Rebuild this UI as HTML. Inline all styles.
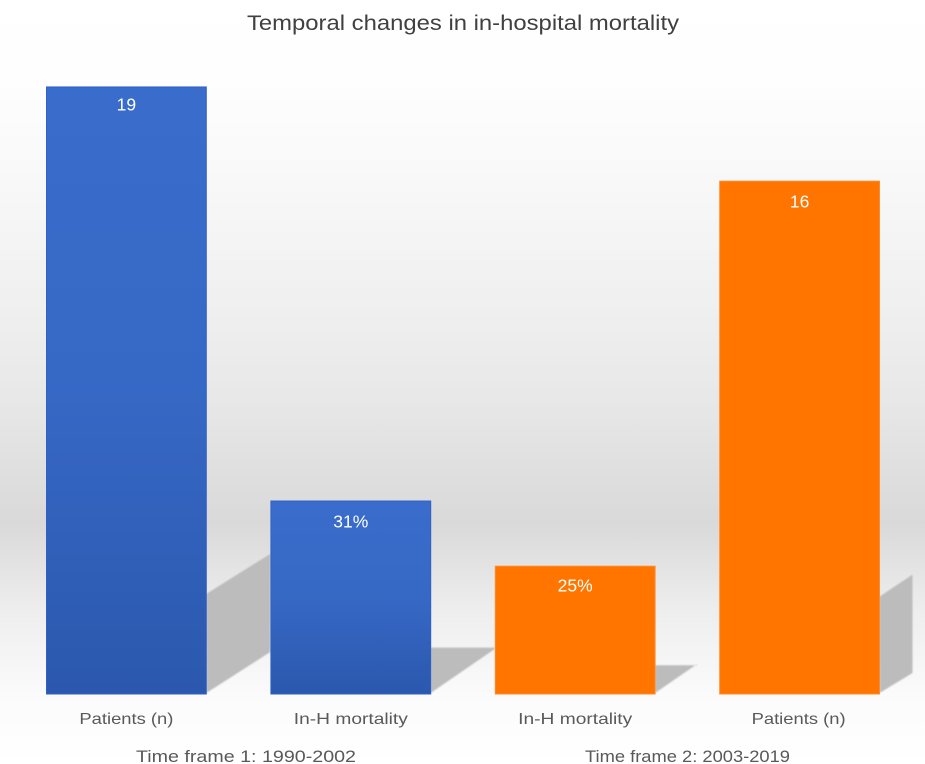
<!DOCTYPE html>
<html>
<head>
<meta charset="utf-8">
<title>Temporal changes in in-hospital mortality</title>
<style>
html,body{margin:0;padding:0;width:925px;height:764px;overflow:hidden;background:#fff}
svg{display:block}
text{font-family:"Liberation Sans",sans-serif}
</style>
</head>
<body>
<svg id="chart" width="925" height="764" viewBox="0 0 925 764" xmlns="http://www.w3.org/2000/svg">
<defs>
<linearGradient id="bgGrad" x1="0" y1="0" x2="0" y2="1">
<stop offset="0" stop-color="#ffffff"/>
<stop offset="0.1" stop-color="#fefefe"/>
<stop offset="0.24" stop-color="#f8f8f8"/>
<stop offset="0.41" stop-color="#efefef"/>
<stop offset="0.52" stop-color="#e8e8e8"/>
<stop offset="0.63" stop-color="#dedede"/>
<stop offset="0.685" stop-color="#d9d9d9"/>
<stop offset="0.795" stop-color="#ededed"/>
<stop offset="0.91" stop-color="#fbfbfb"/>
<stop offset="1" stop-color="#ffffff"/>
</linearGradient>
<linearGradient id="blueGrad" x1="0" y1="0" x2="0" y2="1">
<stop offset="0" stop-color="#3a6ccc"/>
<stop offset="0.5" stop-color="#3668c5"/>
<stop offset="1" stop-color="#2b58ae"/>
</linearGradient>
<filter id="softEdge" x="-10%" y="-10%" width="120%" height="120%">
<feGaussianBlur stdDeviation="0.9"/>
</filter>
</defs>
<rect x="0" y="0" width="925" height="764" fill="url(#bgGrad)"/>
<g id="shadows" filter="url(#softEdge)"></g>
<g id="bars"></g>
<g id="labels"></g>
<g id="ticks"></g>
<g id="groups"></g>
<text x="463" y="30" text-anchor="middle" font-size="21.5" fill="#404040" textLength="432" lengthAdjust="spacingAndGlyphs">Temporal changes in in-hospital mortality</text>
</svg>
<script>
const categories = ['Patients (n)', 'In-H mortality', 'In-H mortality', 'Patients (n)'];
const barValues = [19, 6.04, 4.0, 16.05];
const printedValues = ['19', '31%', '25%', '16'];
const timeFrames = ['Time frame 1: 1990-2002', 'Time frame 2: 2003-2019'];

const NS = 'http://www.w3.org/2000/svg';
const baseY = 694;
const pxPerUnit = 31.95;
const firstBarX = 46.5;
const barStep = 224.4;
const barWidth = 159.8;
const y = v => baseY - v * pxPerUnit;
const x = i => firstBarX + i * barStep;
const barColour = i => (i < 2 ? 'url(#blueGrad)' : '#ff7500');
const barStroke = i => (i < 2 ? '#2f62c6' : '#ff8a2e');

const shadowReach = [64, 64, 42, 33];
const shadowTopRatio = [0.165, 0.24, 0.225, 0.19];
const shadowFarBase = [42, 45, 30, 21];
const labelDrop = [23.5, 26.5, 25.5, 26.5];

function make(tag, attrs, parent) {
  const el = document.createElementNS(NS, tag);
  for (const k in attrs) el.setAttribute(k, attrs[k]);
  parent.appendChild(el);
  return el;
}

barValues.forEach((v, i) => {
  const h = baseY - y(v);
  const xr = x(i) + barWidth;
  const far = xr + shadowReach[i];
  const nearTop = baseY - h * shadowTopRatio[i];
  const farTop = nearTop - (i === 0 ? 40 : i === 3 ? 22 : 0);
  const farBottom = baseY - shadowFarBase[i];
  const s = make('polygon', {
    points: xr + ',' + (baseY - 1) + ' ' + xr + ',' + nearTop + ' ' + far + ',' + farTop + ' ' + far + ',' + farBottom,
    fill: '#bcbcbc'
  }, document.getElementById('shadows'));
  
  

  const b = make('rect', {
    x: x(i), y: y(v), width: barWidth, height: h,
    fill: barColour(i), stroke: barStroke(i), 'stroke-width': 1
  }, document.getElementById('bars'));
  
  

  const t = make('text', {
    x: x(i) + barWidth / 2, y: y(v) + labelDrop[i],
    'text-anchor': 'middle', 'font-size': 17.5, fill: '#ffffff'
  }, document.getElementById('labels'));
  t.textContent = printedValues[i];
  
  

  const c = make('text', {
    x: x(i) + barWidth / 2 - (i === 3 ? 1 : 0), y: 724,
    'text-anchor': 'middle', 'font-size': 16, fill: '#595959',
    textLength: i === 0 || i === 3 ? 94 : 114, lengthAdjust: 'spacingAndGlyphs'
  }, document.getElementById('ticks'));
  c.textContent = categories[i];
  
  
});

timeFrames.forEach((label, i) => {
  const g = make('text', {
    x: i === 0 ? 246 : 687.5, y: 762,
    'text-anchor': 'middle', 'font-size': 17, fill: '#595959',
    textLength: i === 0 ? 220 : 205, lengthAdjust: 'spacingAndGlyphs'
  }, document.getElementById('groups'));
  g.textContent = label;
  
  
});
</script>
</body>
</html>
